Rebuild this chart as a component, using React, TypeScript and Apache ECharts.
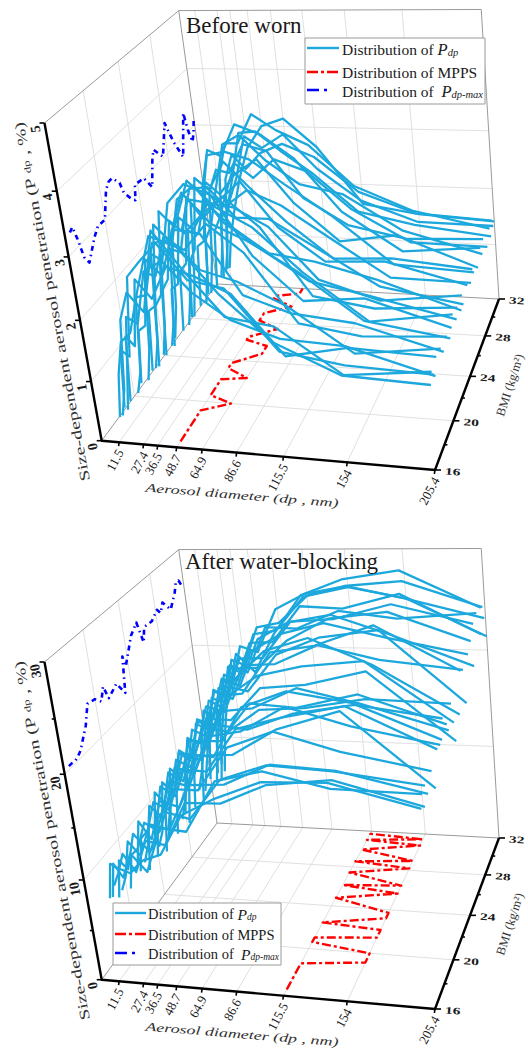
import React, { useEffect, useRef } from "react";
import * as echarts from "echarts";

const bmiValues = [16.5,16.8,17.1,17.4,17.8,18.7,19.2,20.0,20.6,21.0,21.4,22.1,22.4,23.2,23.5,23.7,24.8,25.6,26.1,26.4,27.4,28.2,28.6,29.0,29.9,30.7,31.0,31.4,31.7,32.0];
const diameters = [11.5,15.4,20.5,27.4,36.5,48.7,64.9,86.6,115.5,154,205.4];
const diameterTicks = [11.5,27.4,36.5,48.7,64.9,86.6,115.5,154,205.4];
const bmiTicks = [16,18,20,22,24,26,28,30,32];

const beforeRows = [
[.33,1.05,1.6,1.75,2.45,3.30,3.15,2.45,1.75,1.30,1.25],
[.30,.75,1.9,2.35,2.05,3.34,2.75,2.05,1.95,1.25,1.40],
[.38,1.35,1.25,2.55,2.80,3.10,2.55,2.45,1.50,1.35,1.30],
[.28,.95,1.85,1.75,2.60,2.78,2.30,1.90,1.65,1.60,1.22],
[.35,1.45,1.3,2.4,2.1,2.63,2.50,2.25,1.30,1.50,1.45],
[.32,.7,1.95,2.0,2.85,2.90,2.45,2.30,1.95,1.25,1.42],
[.40,1.3,1.4,2.5,2.25,3.00,2.95,2.00,1.75,1.65,1.28],
[.30,.85,2.15,2.1,2.75,2.55,2.99,2.55,1.45,1.30,1.38],
[.36,1.4,1.5,2.85,2.6,3.38,2.90,2.65,2.20,1.45,1.25],
[.33,.8,2.3,2.2,3.15,3.46,3.30,2.35,1.65,1.75,1.35],
[.29,1.35,1.55,2.95,2.7,3.46,3.05,2.75,2.05,1.30,1.50],
[.37,.9,2.2,2.15,3.05,3.29,2.70,2.30,1.80,1.60,1.30],
[.31,1.45,1.65,2.65,2.45,2.75,3.08,2.60,1.50,1.35,1.44],
[.34,.8,2.05,2.0,2.90,2.86,2.45,2.05,1.95,1.70,1.26],
[.28,1.3,1.4,2.55,2.35,2.81,2.75,2.45,1.60,1.30,1.46],
[.39,.95,2.3,2.3,3.0,3.04,2.55,2.55,2.10,1.50,1.28],
[.33,1.4,1.55,2.7,2.35,2.65,3.00,2.25,1.70,1.75,1.42],
[.30,.85,2.0,1.95,2.70,2.45,2.74,2.50,2.00,1.35,1.33],
[.36,1.35,1.6,2.85,2.65,3.14,2.70,2.15,1.55,1.60,1.48],
[.32,1.0,2.35,2.2,3.2,3.27,3.15,2.75,2.25,1.45,1.38],
[.35,1.45,1.55,2.6,2.4,2.75,3.02,2.30,1.65,1.80,1.30],
[.29,.9,2.4,3.05,2.95,3.50,3.35,2.95,2.05,1.40,1.52],
[.37,1.4,1.65,2.3,3.1,3.27,2.85,2.45,2.30,1.70,1.35],
[.33,.95,2.2,2.6,2.55,3.06,2.95,2.15,1.70,1.50,1.55],
[.31,1.35,1.6,2.05,2.6,2.35,2.69,2.50,1.85,1.30,1.28],
[.38,1.0,2.3,2.85,2.85,3.37,3.10,2.85,2.15,1.75,1.48],
[.30,1.45,1.55,2.15,3.0,3.03,2.70,2.30,1.65,1.45,1.30],
[.34,.85,2.1,2.55,2.3,2.6,2.77,2.55,1.95,1.60,1.52],
[.36,1.3,1.7,2.1,2.85,2.65,2.90,2.30,1.75,1.40,1.38],
[.33,.9,1.4,2.0,2.6,3.0,3.14,2.65,1.65,1.5,1.42],
];
const beforeMpps = [48.7,48.7,48.7,48.7,48.7,48.7,48.7,64.9,48.7,48.7,48.7,48.7,64.9,48.7,48.7,48.7,64.9,64.9,48.7,48.7,64.9,48.7,48.7,48.7,64.9,48.7,48.7,64.9,64.9,64.9];
const beforeMax = [3.30,3.34,3.10,2.78,2.63,2.90,3.00,2.99,3.38,3.46,3.46,3.29,3.08,2.86,2.81,3.04,3.00,2.74,3.14,3.27,3.02,3.50,3.27,3.06,2.69,3.37,3.03,2.77,2.90,3.14];

const afterRows = [
[7.8,11.2,10.8,10.4,11.7,12.4,16.2,17.9,19.6,19.8,17.9],
[7.6,10.9,9.6,12.0,10.3,14.6,14.4,19.2,20.3,19.0,18.9],
[8.4,9.6,11.6,9.9,13.0,12.7,16.8,16.9,18.8,19.5,17.5],
[6.9,10.6,9.8,13.3,11.6,15.6,15.0,18.8,20.3,20.0,19.1],
[7.2,8.6,12.1,10.8,13.9,13.5,17.8,18.0,20.0,19.7,18.0],
[6.4,9.8,10.5,13.1,12.3,16.5,16.5,20.6,22.2,20.6,19.2],
[7.7,8.3,12.7,11.0,14.8,14.3,19.3,19.5,22.0,23.8,17.2],
[6.8,10.2,11.0,13.9,13.2,17.2,17.1,21.2,22.4,23.6,20.0],
[7.1,8.9,12.9,11.9,15.5,15.0,19.9,20.5,22.9,21.3,19.9],
[5.9,10.6,10.4,14.5,13.6,17.8,17.6,22.4,24.0,23.1,20.0],
[7.5,8.2,13.5,12.3,16.1,15.5,20.4,20.0,21.6,22.6,21.6],
[6.2,10.1,11.1,14.9,14.1,18.1,18.2,21.9,21.6,23.0,20.5],
[6.9,8.5,13.6,12.6,16.5,16.0,20.8,21.2,23.2,21.9,19.7],
[5.6,10.5,11.5,15.2,14.5,18.5,18.2,20.4,20.7,21.7,21.5],
[6.5,8.4,14.0,13.1,17.0,16.5,21.3,23.4,24.4,25.0,19.5],
[7.3,9.7,11.7,15.7,14.9,19.0,18.9,22.1,22.5,23.9,17.6],
[5.9,11.0,14.5,13.7,17.7,17.3,22.0,24.8,26.1,23.7,19.2],
[6.7,8.7,12.1,16.2,15.6,19.7,20.0,24.1,24.8,26.8,22.7],
[7.0,11.2,14.9,14.3,18.2,17.7,22.4,22.6,24.5,23.2,22.4],
[5.5,9.9,12.5,16.6,16.1,20.1,19.6,23.3,25.0,25.8,19.0],
[6.3,11.5,15.3,14.8,18.7,18.0,22.8,24.6,25.7,24.4,22.9],
[7.4,9.5,13.0,17.1,16.4,20.5,20.6,23.4,25.6,26.3,23.6],
[5.8,11.9,15.7,15.1,19.1,18.4,23.2,24.9,25.7,23.8,20.9],
[6.6,9.7,13.3,17.6,16.9,20.9,21.0,24.7,25.0,26.5,24.7],
[7.1,12.2,16.0,15.6,19.5,18.8,23.5,23.4,25.2,24.5,25.1],
[6.0,10.0,13.7,17.9,17.3,21.3,21.4,25.1,24.9,26.4,22.5],
[6.8,12.4,16.2,15.8,19.9,18.0,22.0,26.0,27.6,28.5,24.9],
[5.7,10.1,13.9,18.2,17.6,21.7,22.1,25.6,26.7,27.2,24.7],
[7.2,12.6,16.4,16.1,20.2,19.6,24.1,25.7,26.5,25.3,23.4],
[6.1,10.3,14.3,18.5,18.0,22.0,22.5,25.3,26.2,25.1,21.4],
];
const afterMpps = [115.5,115.5,115.5,115.5,115.5,115.5,154,154,115.5,115.5,154,154,115.5,154,154,154,115.5,154,115.5,154,115.5,154,115.5,154,115.5,154,115.5,154,115.5,115.5];
const afterMax = [20.3,20.3,20.2,20.3,20.6,22.2,23.8,23.6,22.9,24.0,22.6,23.0,23.2,21.7,25.0,23.9,26.1,26.8,24.5,25.8,25.7,26.3,25.7,26.5,25.2,26.4,27.2,27.2,26.5,26.2];

const beforeHeightTicks = [0,1,2,3,4,5];
const beforeHeightLabels = ["0","1","2","3","4","5"];
const afterHeightTicks = [0,5,10,15,20,25,30];
const afterHeightLabels = ["0","","10","","20","","30"];

const FONT = '"Liberation Serif", "Times New Roman", serif';
const CURVE = "#1CA8DD";
const RED = "#FF0000";
const BLUE = "#0000FF";
const GRID = "#E0E0E0";
const EDGE = "#9A9A9A";

// Perspective camera shared by both panels (image of the box corners).
const O = [101.7, 440.7], U = [435, 470], V = [217, 284], UV = [499, 299], W = [44.5, 123];
const sx = O[0] - U[0] + UV[0] - V[0], sy = O[1] - U[1] + UV[1] - V[1];
const dx1 = U[0] - UV[0], dx2 = V[0] - UV[0], dy1 = U[1] - UV[1], dy2 = V[1] - UV[1];
const det = dx1 * dy2 - dx2 * dy1;
const g = (sx * dy2 - dx2 * sy) / det;
const h = (dx1 * sy - sx * dy1) / det;
const k = -0.085;
const A = [U[0] * (1 + g) - O[0], U[1] * (1 + g) - O[1]];
const B = [V[0] * (1 + h) - O[0], V[1] * (1 + h) - O[1]];
const C = [W[0] * (1 + k) - O[0], W[1] * (1 + k) - O[1]];

function project(d: number, bmi: number, p: number, pTop: number, dy: number): number[] {
  const u = d / 205.4, v = (bmi - 16) / 16, w = p / pTop;
  const den = 1 + g * u + h * v + k * w;
  return [
    (A[0] * u + B[0] * v + C[0] * w + O[0]) / den,
    (A[1] * u + B[1] * v + C[1] * w + O[1]) / den + dy,
  ];
}

function line(name: string, data: number[][], color: string, width: number, z: number, type: any = "solid") {
  return {
    type: "line", name, data, symbol: "none", silent: true, clip: false, z,
    lineStyle: { color, width, type, join: "round", cap: "butt" }, emphasis: { disabled: true },
  };
}

function text(t: string, x: number, y: number, deg: number, size: number, o: any = {}) {
  const { scaleX, scaleY, align, ...rest } = o;
  return {
    type: "text", x, y, rotation: (deg * Math.PI) / 180, scaleX: scaleX ?? 1, scaleY: scaleY ?? 1, z: 100, silent: true,
    style: {
      text: t, fontFamily: FONT, fontSize: size, fill: "#1a1a1a",
      align: align ?? "center", verticalAlign: "middle", textAlign: align ?? "center", textVerticalAlign: "middle", ...rest,
    },
  };
}

function panelSeries(rows: number[][], mpps: number[], maxes: number[], pTop: number, heights: number[], gridHeights: number[], dy: number) {
  const P = (d: number, b: number, p: number) => project(d, b, p, pTop, dy);
  const out: any[] = [];
  // grid
  diameterTicks.slice(0, -1).forEach((d) => {
    out.push(line("grid", [P(d, 16, 0), P(d, 32, 0), P(d, 32, pTop)], GRID, 1, 1));
  });
  [20, 24, 28].forEach((b) => {
    out.push(line("grid", [P(205.4, b, 0), P(0, b, 0), P(0, b, pTop)], GRID, 1, 1));
  });
  gridHeights.forEach((p) => {
    out.push(line("grid", [P(0, 16, p), P(0, 32, p), P(205.4, 32, p)], GRID, 1, 1));
  });
  // box edges
  out.push(line("edge", [P(0, 16, pTop), P(0, 32, pTop), P(205.4, 32, pTop), P(205.4, 32, 0), P(0, 32, 0), P(0, 16, 0)], EDGE, 1, 2));
  out.push(line("edge", [P(0, 32, 0), P(0, 32, pTop)], EDGE, 1, 2));
  // red MPPS lies on the floor, under the curves
  out.push(line("MPPS", mpps.map((d, i) => P(d, bmiValues[i], 0)), RED, 2.4, 4, [9, 3, 3, 3]));
  // curves
  rows.forEach((row, i) => {
    out.push(line(`Pdp ${bmiValues[i]}`, row.map((p, j) => P(diameters[j], bmiValues[i], p)), CURVE, 2.3, 5));
  });
  out.push(line("Pdp-max", maxes.map((p, i) => P(0, bmiValues[i], p)), BLUE, 2.6, 6, [5, 4, 1.5, 4]));
  // black axes
  out.push(line("axis", [P(0, 16, pTop), P(0, 16, 0), P(205.4, 16, 0), P(205.4, 32, 0)], "#000", 2.4, 8));
  heights.forEach((p, i) => {
    const a = P(0, 16, p);
    const isMajor = pTop === 5 || i % 2 === 0;
    out.push(line("tick", [a, [a[0] - (isMajor ? 5 : 3), a[1]]], "#000", 1.6, 8));
  });
  diameterTicks.forEach((d) => {
    const a = P(d, 16, 0);
    out.push(line("tick", [a, [a[0] - 0.6, a[1] + 4]], "#000", 1.6, 8));
  });
  bmiTicks.forEach((b, i) => {
    const a = P(205.4, b, 0);
    out.push(line("tick", [a, [a[0] + (i % 2 === 0 ? 6 : 3), a[1]]], "#000", 1.6, 8));
  });
  return out;
}

function panelTexts(pTop: number, heights: number[], labels: string[], dy: number) {
  const P = (d: number, b: number, p: number) => project(d, b, p, pTop, dy);
  const out: any[] = [];
  heights.forEach((p, i) => {
    if (!labels[i]) return;
    const a = P(0, 16, p);
    out.push(text(labels[i], a[0] - 9, a[1] + (labels[i].length > 1 ? 9 : 6), 100, 14, { fontWeight: "bold" }));
  });
  diameterTicks.forEach((d) => {
    const a = P(d, 16, 0);
    out.push(text(String(d), a[0] + 1, a[1] + 8, 62, 13, { align: "right" }));
  });
  bmiTicks.forEach((b, i) => {
    if (i % 2) return;
    const a = P(205.4, b, 0);
    out.push(text(String(b), a[0] + 10, a[1] + 1, -4, 10, { align: "left", fontWeight: "bold", scaleX: 1.55 }));
  });
  out.push(
    text("{a|Size-dependent aerosol penetration (P }{s|dp}{a| , %)}", 52, 302 + dy, 100.5, 14, {
      scaleX: 1.45,
      rich: {
        a: { fontFamily: FONT, fontSize: 14, fill: "#333333" },
        s: { fontFamily: FONT, fontSize: 9, fill: "#333333" },
      },
    })
  );
  out.push(text("Aerosol diameter (dp , nm)", 242, 495 + dy, -4.6, 12, { fontStyle: "italic", scaleX: 1.5, fill: "#333333" }));
  out.push(text("BMI (kg/m\u00B2)", 510, 385 + dy, 72, 12.5, { fill: "#333333" }));
  return out;
}

function legend(x0: number, y0: number, w: number, ht: number, lineX: number[], ys: number[], textX: number, size: number) {
  const rich = {
    a: { fontFamily: FONT, fontSize: size, fill: "#1a1a1a" },
    i: { fontFamily: FONT, fontSize: size + 1, fontStyle: "italic", fill: "#1a1a1a" },
    s: { fontFamily: FONT, fontSize: size - 5, fontStyle: "italic", fill: "#1a1a1a", verticalAlign: "bottom" },
  };
  const ln = (y: number, stroke: string, dash: any, width: number, x2 = lineX[1]) => ({
    type: "line", z: 100, silent: true,
    shape: { x1: lineX[0], y1: y, x2, y2: y },
    style: { stroke, lineWidth: width, lineDash: dash },
  });
  return [
    { type: "rect", z: 95, silent: true, shape: { x: x0, y: y0, width: w, height: ht }, style: { fill: "#fff", stroke: "#9a9a9a", lineWidth: 1 } },
    ln(ys[0], CURVE, null, 2.4),
    ln(ys[1], RED, [11, 3, 3, 3], 2.4),
    ln(ys[2], BLUE, [12, 5, 3, 40], 2.6, lineX[1] - 7),
    text("{a|Distribution of }{i|P}{s|dp}", textX, ys[0] + 1, 0, size, { align: "left", rich }),
    text("{a|Distribution of MPPS}", textX, ys[1] + 0.5, 0, size, { align: "left", rich }),
    text("{a|Distribution of  }{i|P}{s|dp-max}", textX, ys[2] + 1, 0, size, { align: "left", rich }),
  ];
}

export default function App() {
  const ref = useRef<HTMLDivElement>(null);
  useEffect(() => {
    if (!ref.current) return;
    const chart = echarts.init(ref.current, undefined, { renderer: "svg" });
    const panelGap = 539;
    chart.setOption({
      animation: false,
      backgroundColor: "#ffffff",
      tooltip: { show: false },
      grid: { left: 0, right: 0, top: 0, bottom: 0 },
      xAxis: { type: "value", min: 0, max: 528, show: false },
      yAxis: { type: "value", min: 0, max: 1051, inverse: true, show: false },
      series: [
        ...panelSeries(beforeRows, beforeMpps, beforeMax, 5, beforeHeightTicks, [1, 2, 3, 4], 0),
        ...panelSeries(afterRows, afterMpps, afterMax, 30, afterHeightTicks, [10, 20], panelGap),
      ],
      graphic: [
        ...panelTexts(5, beforeHeightTicks, beforeHeightLabels, 0),
        ...panelTexts(30, afterHeightTicks, afterHeightLabels, panelGap),
        text("Before worn", 186, 25, 0, 23, { align: "left" }),
        text("After water-blocking", 185, 561, 0, 23, { align: "left" }),
        ...legend(305, 38, 180, 66, [307, 339], [48, 72, 90], 342, 15.5),
        ...legend(113, 903, 168, 62, [115, 146], [913, 934, 953], 148, 14.5),
      ],
    });
    return () => chart.dispose();
  }, []);
  return <div ref={ref} style={{ position: "absolute", left: 0, top: 0, width: 528, height: 1051 }} />;
}
